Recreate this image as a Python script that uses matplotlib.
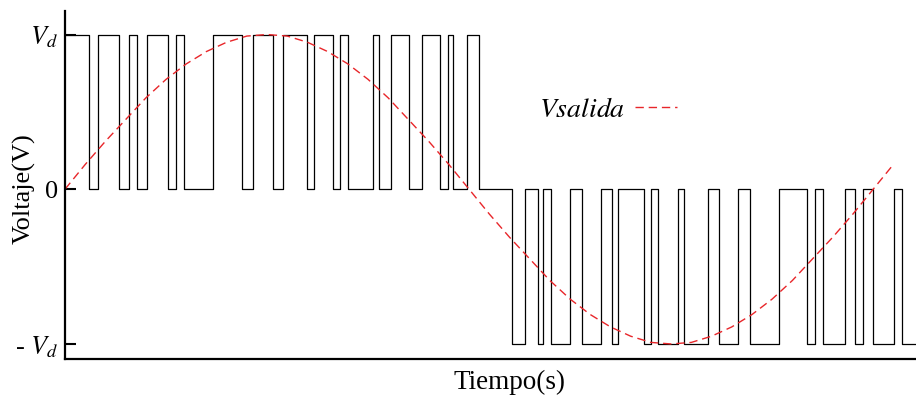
import matplotlib
matplotlib.use("Agg")
import matplotlib.pyplot as plt

plt.rcParams['font.family'] = 'serif'
plt.rcParams['font.serif'] = ['Liberation Serif', 'DejaVu Serif']
plt.rcParams['mathtext.fontset'] = 'stix'

# flancos de conmutacion (ms) - semiciclo positivo, empieza en +Vd
flancos_pos = [0.601, 0.809, 1.329, 1.577, 1.775, 2.022, 2.550, 2.740, 2.946,
               3.656, 4.374, 4.661, 5.141, 5.404, 5.998, 6.171, 6.634, 6.814,
               6.998, 7.631, 7.765, 8.062, 8.515, 8.829, 9.282, 9.488, 9.611,
               9.943, 10.255]
# semiciclo negativo, empieza en 0
flancos_neg = [11.072, 11.386, 11.700, 11.839, 12.037, 12.507, 12.805, 13.260,
               13.547, 13.696, 14.324, 14.498, 14.686, 15.166, 15.314, 15.923,
               16.181, 16.666, 16.955, 17.666, 18.374, 18.572, 18.770, 19.307,
               19.554, 19.745, 20.007, 20.520, 20.710]
t_fin = 21.06

# tension de salida (referencia), leida cada 0.5 ms
t_sal = [i * 0.5 for i in range(42)]
v_sal = [0.0, 0.16, 0.31, 0.45, 0.59, 0.71, 0.81, 0.89, 0.95, 0.99,
         1.0, 0.99, 0.95, 0.89, 0.81, 0.71, 0.59, 0.45, 0.31, 0.16,
         0.0, -0.16, -0.31, -0.45, -0.59, -0.71, -0.81, -0.89, -0.95, -0.99,
         -1.0, -0.99, -0.95, -0.89, -0.81, -0.71, -0.59, -0.45, -0.31, -0.16,
         0.0, 0.16]

# niveles de la onda pwm
niveles = []
for i in range(len(flancos_pos) + 1):
    niveles.append(1 if i % 2 == 0 else 0)
for i in range(len(flancos_neg)):
    niveles.append(-1 if i % 2 == 0 else 0)

x = [0] + flancos_pos + flancos_neg + [t_fin]
y = niveles + [niveles[-1]]

fig = plt.figure(figsize=(9.16, 3.96), dpi=100)
ax = fig.add_axes([65 / 916, 37.5 / 396, 851 / 916, 347.5 / 396])

ax.step(x, y, where='post', color='black', lw=0.9)
ax.plot(t_sal, v_sal, color='#e8262a', lw=1.0, dashes=(6, 3.5),
        label=r'$Vsalida$')

ax.set_xlim(0, t_fin)
ax.set_ylim(-1.094, 1.152)
ax.set_xticks([])
ax.set_yticks([-1, 0, 1], ['- $V_d$', '0', '$V_d$'])
ax.tick_params(axis='y', direction='in', length=8, width=1.5, pad=5,
               labelsize=19)
for s in ['top', 'right']:
    ax.spines[s].set_visible(False)
for s in ['left', 'bottom']:
    ax.spines[s].set_linewidth(1.6)

ax.set_ylabel('Voltaje(V)', fontsize=19)
ax.yaxis.set_label_coords(-0.035, 0.49)
ax.set_xlabel('Tiempo(s)', fontsize=19.5)
ax.xaxis.set_label_coords(0.522, -0.034)

ax.legend(loc='center left', bbox_to_anchor=(0.557, 0.715), frameon=False,
          markerfirst=False, fontsize=20, handlelength=1.5, handletextpad=0.35,
          borderpad=0, borderaxespad=0)

fig.savefig('out.png', dpi=100)
